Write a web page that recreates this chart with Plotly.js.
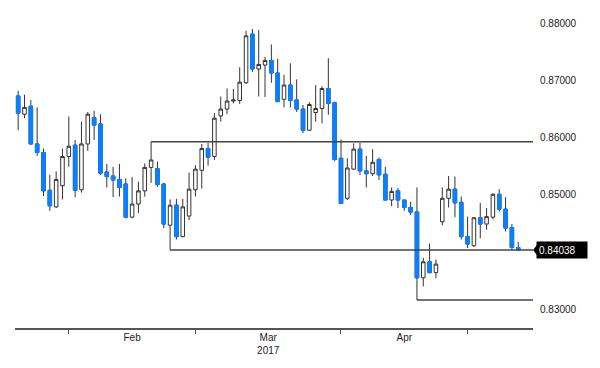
<!DOCTYPE html>
<html><head><meta charset="utf-8">
<script src="https://cdn.plot.ly/plotly-3.0.1.min.js"></script>
<style>html,body{margin:0;padding:0;background:#fff}#chart{width:600px;height:368px}</style>
</head><body><div id="chart"></div>
<script>
const dates = [
 '2017-01-19','2017-01-20','2017-01-23','2017-01-24','2017-01-25','2017-01-26','2017-01-27','2017-01-30','2017-01-31',
 '2017-02-01','2017-02-02','2017-02-03','2017-02-06','2017-02-07','2017-02-08','2017-02-09','2017-02-10','2017-02-13','2017-02-14',
 '2017-02-15','2017-02-16','2017-02-17','2017-02-20','2017-02-21','2017-02-22','2017-02-23','2017-02-24','2017-02-27','2017-02-28',
 '2017-03-01','2017-03-02','2017-03-03','2017-03-06','2017-03-07','2017-03-08','2017-03-09','2017-03-10','2017-03-13','2017-03-14',
 '2017-03-15','2017-03-16','2017-03-17','2017-03-20','2017-03-21','2017-03-22','2017-03-23','2017-03-24','2017-03-27','2017-03-28',
 '2017-03-29','2017-03-30','2017-03-31',
 '2017-04-03','2017-04-04','2017-04-05','2017-04-06','2017-04-07','2017-04-10','2017-04-11','2017-04-12','2017-04-13','2017-04-14',
 '2017-04-17','2017-04-18','2017-04-19','2017-04-20','2017-04-21','2017-04-24','2017-04-25','2017-04-26','2017-04-27','2017-04-28',
 '2017-05-01','2017-05-02','2017-05-03','2017-05-04','2017-05-05','2017-05-08','2017-05-09','2017-05-10'
];
const openP = [
 0.8673,0.8641,0.8655,0.8589,0.8574,0.8508,0.8479,0.8516,0.8567,0.8587,
 0.8509,0.8589,0.8635,0.8624,0.8540,0.8533,0.8527,0.8519,0.8461,0.8484,
 0.8507,0.8548,0.8546,0.8519,0.8447,0.8482,0.8427,0.8463,0.8509,0.8543,
 0.8581,0.8567,0.8638,0.8650,0.8664,0.8665,0.8696,0.8781,0.8720,0.8727,
 0.8735,0.8713,0.8667,0.8692,0.8666,0.8650,0.8613,0.8644,0.8651,0.8686,
 0.8661,0.8564,0.8494,0.8545,0.8580,0.8542,0.8537,0.8562,0.8536,0.8491,
 0.8507,0.8491,0.8478,0.8470,0.8355,0.8383,0.8364,0.8453,0.8494,0.8510,
 0.8487,0.8427,0.8411,0.8460,0.8449,0.8461,0.8501,0.8475,0.8443,0.8408
];
const highP = [
 0.8682,0.8675,0.8666,0.8653,0.8581,0.8535,0.8541,0.8581,0.8637,0.8596,
 0.8628,0.8645,0.8647,0.8641,0.8554,0.8549,0.8554,0.8529,0.8531,0.8523,
 0.8555,0.8593,0.8558,0.8521,0.8492,0.8493,0.8493,0.8539,0.8552,0.8589,
 0.8591,0.8643,0.8672,0.8686,0.8685,0.8723,0.8787,0.8790,0.8788,0.8741,
 0.8763,0.8738,0.8710,0.8730,0.8702,0.8657,0.8662,0.8692,0.8690,0.8739,
 0.8663,0.8597,0.8564,0.8590,0.8591,0.8568,0.8580,0.8565,0.8549,0.8513,
 0.8512,0.8491,0.8488,0.8513,0.8390,0.8415,0.8387,0.8513,0.8533,0.8532,
 0.8497,0.8462,0.8461,0.8486,0.8477,0.8503,0.8510,0.8496,0.8449,0.8418
];
const lowP = [
 0.8613,0.8634,0.8588,0.8568,0.8498,0.8472,0.8477,0.8492,0.8549,0.8496,
 0.8504,0.8577,0.8596,0.8535,0.8513,0.8496,0.8497,0.8459,0.8459,0.8468,
 0.8497,0.8521,0.8514,0.8442,0.84038,0.8422,0.8426,0.8456,0.8497,0.8511,
 0.8551,0.8561,0.8628,0.8641,0.8660,0.8659,0.8694,0.8715,0.8672,0.8671,
 0.8696,0.8663,0.8653,0.8653,0.8645,0.8608,0.8612,0.8628,0.8625,0.8640,
 0.8559,0.8485,0.8491,0.8544,0.8535,0.8513,0.8533,0.8526,0.8491,0.8480,
 0.8477,0.8472,0.8465,0.8316,0.8340,0.8363,0.8354,0.8447,0.8478,0.8461,
 0.8422,0.8407,0.8409,0.8424,0.8439,0.8457,0.8471,0.8436,0.8404,0.84038
];
const closeP = [
 0.8643,0.8653,0.8589,0.8574,0.8507,0.8481,0.8527,0.8567,0.8585,0.8508,
 0.8589,0.8641,0.8622,0.8538,0.8532,0.8526,0.8513,0.8461,0.8484,0.8507,
 0.8548,0.8561,0.8518,0.8449,0.8482,0.8427,0.8479,0.8510,0.8545,0.8581,
 0.8566,0.8634,0.8650,0.8664,0.8666,0.8697,0.8778,0.8720,0.8728,0.8735,
 0.8713,0.8663,0.8692,0.8665,0.8650,0.8613,0.8658,0.8651,0.8686,0.8660,
 0.8562,0.8485,0.8547,0.8580,0.8542,0.8537,0.8557,0.8535,0.8491,0.8506,
 0.8491,0.8478,0.8470,0.8355,0.8383,0.8364,0.8379,0.8494,0.8510,0.8486,
 0.8427,0.8414,0.8460,0.8449,0.8462,0.8501,0.8475,0.8442,0.8408,0.84038
];
const levelValues = [0.8593, 0.84038, 0.8316];
const levelStarts = ['2017-02-17', '2017-02-22', '2017-04-18'];
const monthEndTicks = ['2017-01-31', '2017-02-28', '2017-03-31', '2017-04-28'];
const monthLabelPos = ['2017-02-14', '2017-03-15 12:00', '2017-04-14'];
const monthLabels = ['Feb', 'Mar<br>2017', 'Apr'];
const yTicks = [0.83, 0.85, 0.86, 0.87, 0.88];
const lastPrice = 0.84038;

const xRange = ['2017-01-18 12:00', '2017-05-12 08:00'];
const breaks = [{bounds: ['sat', 'mon']}];
const BLUE = '#0a80ff';
const WICK = '#333333';
const FONT = 'Liberation Sans, Arial, sans-serif';

// decreasing bodies only (to paint blue bodies without dark outline)
const dIdx = dates.map((d, i) => i).filter(i => closeP[i] < openP[i]);

const traces = [
  {
    type: 'candlestick', x: dates, open: openP, high: highP, low: lowP, close: closeP,
    increasing: {line: {color: WICK, width: 1}, fillcolor: '#ffffff'},
    decreasing: {line: {color: WICK, width: 1}, fillcolor: BLUE},
    hoverinfo: 'x+y'
  },
  {
    type: 'candlestick',
    x: dIdx.map(i => dates[i]),
    open: dIdx.map(i => openP[i]),
    high: dIdx.map(i => openP[i]),
    low: dIdx.map(i => closeP[i]),
    close: dIdx.map(i => closeP[i]),
    increasing: {line: {color: BLUE, width: 1}, fillcolor: BLUE},
    decreasing: {line: {color: BLUE, width: 1}, fillcolor: BLUE},
    hoverinfo: 'skip'
  }
];
levelValues.forEach((v, k) => {
  traces.push({
    type: 'scatter', mode: 'lines', x: [levelStarts[k], xRange[1]], y: [v, v],
    line: {color: '#444444', width: 1.5}, hoverinfo: 'skip'
  });
});
traces.push({type: 'scatter', mode: 'markers', x: monthLabelPos, y: [null, null, null], xaxis: 'x2', hoverinfo: 'skip'});

const layout = {
  width: 600, height: 368,
  margin: {l: 15, r: 67, t: 5, b: 40},
  paper_bgcolor: '#ffffff', plot_bgcolor: '#ffffff',
  showlegend: false, boxgap: 0.2,
  font: {family: FONT, size: 10, color: '#222'},
  xaxis: {
    type: 'date', range: xRange, rangebreaks: breaks, rangeslider: {visible: false},
    tickmode: 'array', tickvals: monthEndTicks, showticklabels: false,
    ticks: 'outside', ticklen: 4, tickcolor: '#555', tickwidth: 1,
    showline: true, linecolor: '#555', linewidth: 1.5,
    showgrid: false, zeroline: false, fixedrange: true
  },
  xaxis2: {
    type: 'date', overlaying: 'x', anchor: 'y', side: 'bottom',
    range: xRange, rangebreaks: breaks,
    tickmode: 'array', tickvals: monthLabelPos, ticktext: monthLabels,
    ticks: '', showline: false, showgrid: false, zeroline: false,
    ticklabelstandoff: 2,
    tickfont: {family: FONT, size: 10, color: '#222'}
  },
  yaxis: {
    side: 'right', range: [0.826726, 0.883196],
    tickmode: 'array', tickvals: yTicks, tickformat: '.5f',
    showgrid: false, zeroline: false, showline: false, ticks: '',
    ticklabelstandoff: 6,
    tickfont: {family: FONT, size: 10, color: '#222'}, fixedrange: true
  },
  annotations: [{
    xref: 'paper', x: 1, xanchor: 'left', xshift: 3,
    yref: 'y', y: lastPrice, yanchor: 'middle',
    text: lastPrice.toFixed(5), showarrow: false,
    bgcolor: '#000000', font: {family: FONT, size: 10, color: '#ffffff'},
    borderpad: 2, width: 46, height: 12, align: 'left'
  }],
  shapes: [{
    type: 'path', xref: 'paper', xsizemode: 'pixel', xanchor: 1,
    yref: 'y', ysizemode: 'pixel', yanchor: lastPrice,
    path: 'M0,0L4,5L4,-5Z', fillcolor: '#000000', line: {width: 0}
  }]
};

Plotly.newPlot('chart', traces, layout, {displayModeBar: false, staticPlot: true});
</script>
</body></html>
